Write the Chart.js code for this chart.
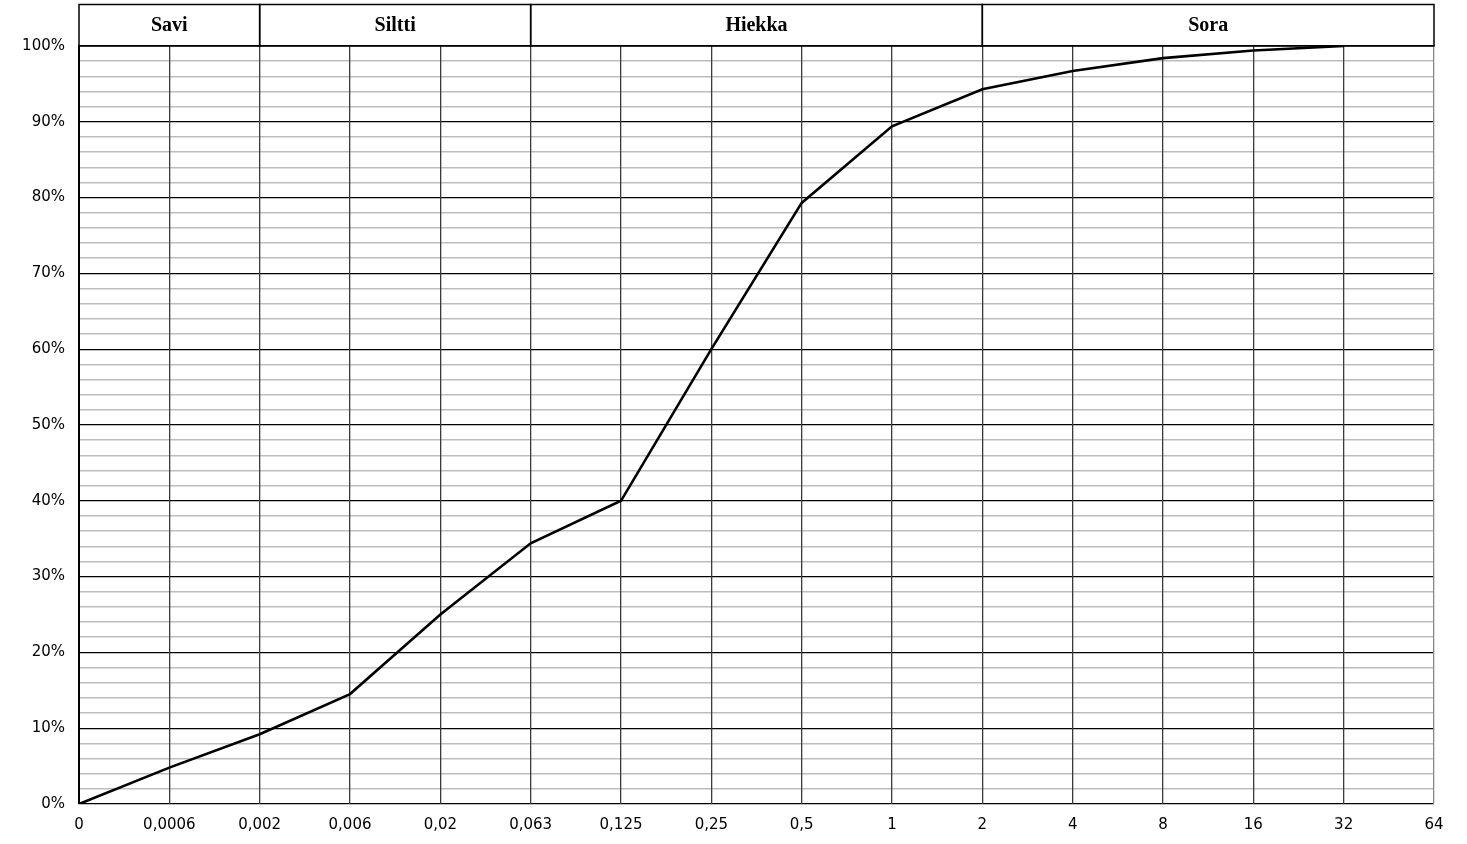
<!DOCTYPE html>
<html>
<head>
<meta charset="utf-8">
<script src="https://cdn.jsdelivr.net/npm/chart.js@4"></script>
<style>
  html, body { margin: 0; padding: 0; background: #fff; }
  #wrap { width: 1467px; height: 844px; }
</style>
</head>
<body>
<div id="wrap"><canvas id="grading"></canvas></div>
<script>
// raekoko (mm) ja läpäisyprosentti
const sizeLabels = ['0', '0,0006', '0,002', '0,006', '0,02', '0,063', '0,125', '0,25', '0,5', '1', '2', '4', '8', '16', '32', '64'];
const passingPercent = [0, 4.8, 9.2, 14.5, 25.0, 34.4, 40.0, 60.0, 79.3, 89.4, 94.3, 96.7, 98.4, 99.4, 100, null];

// lajitteet ja niiden rajat (indeksit sizeLabels-taulukkoon)
const soilClasses = ['Savi', 'Siltti', 'Hiekka', 'Sora'];
const soilBounds = [0, 2, 5, 10, 15];

const headerBand = {
  id: 'headerBand',
  afterDraw(chart) {
    const ctx = chart.ctx;
    const x = chart.scales.x;
    const area = chart.chartArea;
    const top = 4.5;
    const bottom = area.top;
    ctx.save();
    ctx.strokeStyle = '#000';
    ctx.lineWidth = 1.5;
    ctx.fillStyle = '#000';
    ctx.font = 'bold 20px "Liberation Serif", "Times New Roman", serif';
    ctx.textAlign = 'center';
    ctx.textBaseline = 'middle';
    for (let i = 0; i < soilClasses.length; i++) {
      const x0 = x.getPixelForValue(soilBounds[i]);
      const x1 = x.getPixelForValue(soilBounds[i + 1]);
      ctx.strokeRect(x0, top, x1 - x0, bottom - top);
      ctx.fillText(soilClasses[i], (x0 + x1) / 2, (top + bottom) / 2 + 1);
    }
    ctx.restore();
  }
};

new Chart(document.getElementById('grading'), {
  type: 'line',
  data: {
    labels: sizeLabels,
    datasets: [
      {
        data: passingPercent,
        borderColor: '#000',
        borderWidth: 2.6,
        pointRadius: 0,
        tension: 0,
        fill: false,
      },
    ],
  },
  options: {
    responsive: true,
    maintainAspectRatio: false,
    animation: false,
    layout: {
      padding: { top: 46, right: 33, left: 0, bottom: 0 },
    },
    plugins: {
      legend: { display: false },
      tooltip: { enabled: false },
    },
    scales: {
      x: {
        offset: false,
        grid: {
          z: -1,
          color: (c) => {
            if (c.index === 0) return '#000';
            return c.index === sizeLabels.length - 1 ? '#888' : '#3a3a3a';
          },
          lineWidth: (c) => (c.index === 0 ? 2 : 1.3),
          drawTicks: false,
        },
        border: { display: false },
        ticks: {
          autoSkip: false,
          maxRotation: 0,
          padding: 12,
          color: '#000',
          font: { family: '"DejaVu Sans", sans-serif', size: 15 },
        },
        afterFit: (scale) => {
          scale.height = 40;
        },
      },
      y: {
        min: 0,
        max: 100,
        grid: {
          z: -2,
          color: (c) => (c.tick.value % 10 === 0 ? '#000' : '#bdbdbd'),
          lineWidth: (c) => (c.tick.value % 10 === 0 ? 1.2 : 1.5),
          drawTicks: false,
        },
        border: { color: '#000', width: 2 },
        ticks: {
          stepSize: 2,
          autoSkip: false,
          padding: 14,
          color: '#000',
          font: { family: '"DejaVu Sans", sans-serif', size: 15 },
          callback: (v) => (v % 10 === 0 ? v + '%' : ''),
        },
        afterFit: (scale) => {
          scale.width = 79;
        },
      },
    },
  },
  plugins: [headerBand],
});
</script>
</body>
</html>
